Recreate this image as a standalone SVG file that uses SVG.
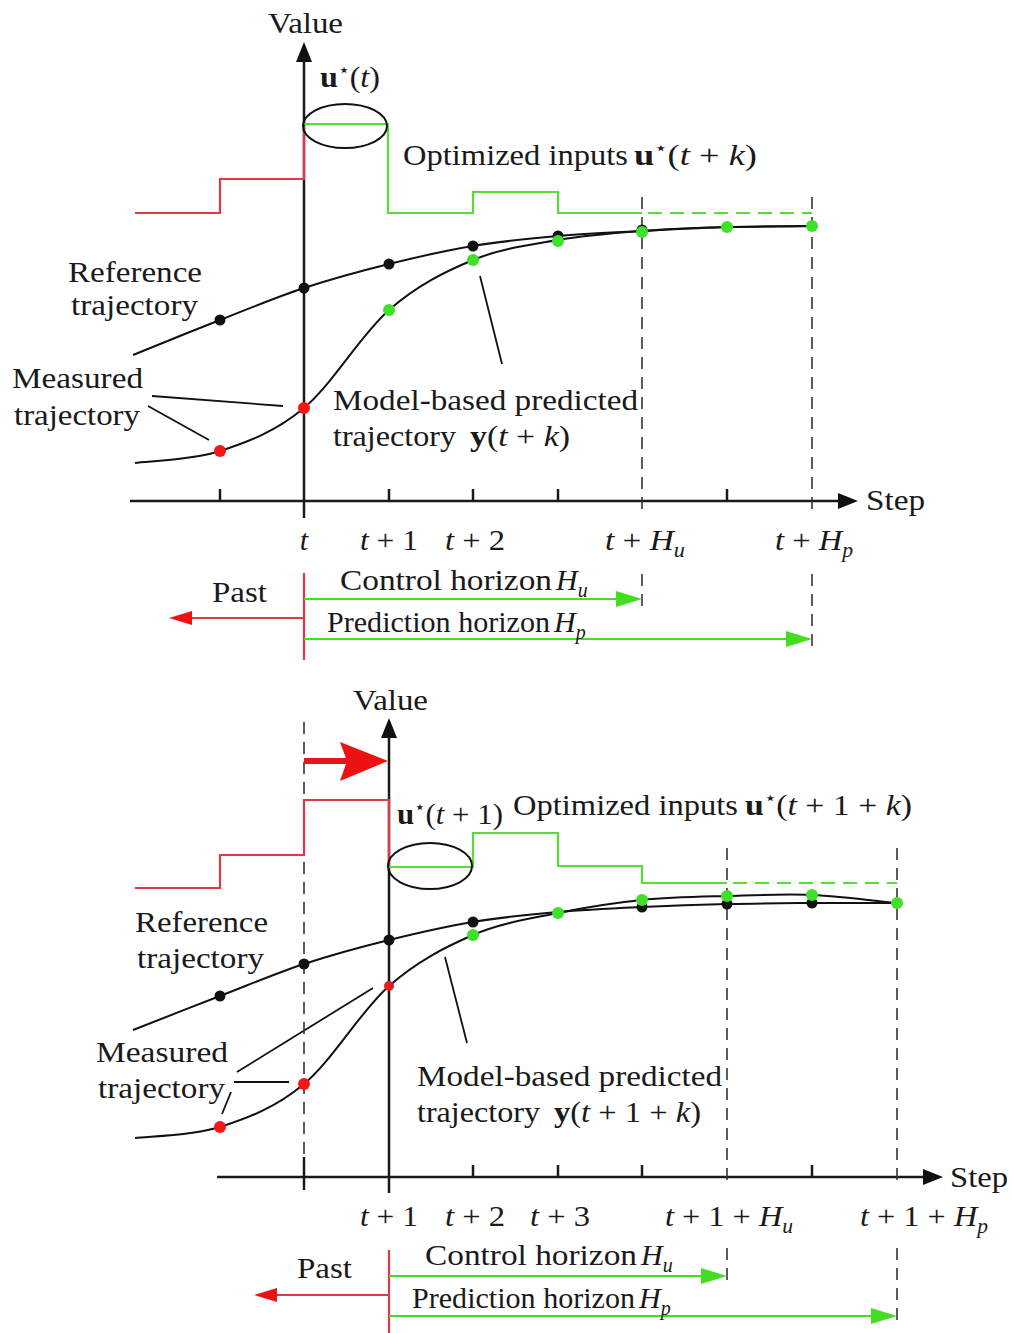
<svg xmlns="http://www.w3.org/2000/svg" width="1012" height="1333" viewBox="0 0 1012 1333">
<style>
text{font-family:"Liberation Serif","Times New Roman",serif;font-size:30px;fill:#1a1a1a}
.m{font-style:italic}
.b{font-weight:bold}
.sup{font-size:18px}
.sub{font-size:20px;font-style:italic}
.ax{stroke:#1a1a1a;stroke-width:2.5;fill:none}
.cv{stroke:#111;stroke-width:2;fill:none}
.ld{stroke:#111;stroke-width:1.8;fill:none}
.dash{stroke:#333;stroke-width:1.6;stroke-dasharray:12 8;fill:none}
.rs{stroke:#dc3a44;stroke-width:2.2;fill:none}
.gs{stroke:#58dd38;stroke-width:2.2;fill:none}
.gd{stroke:#58dd38;stroke-width:2.2;stroke-dasharray:14 8;fill:none}
.ell{stroke:#111;stroke-width:2;fill:none}
.kd{fill:#111}
.gdot{fill:#3fe02a}
.rdot{fill:#ff1414}
.garr{stroke:#44dd22;stroke-width:2.2;fill:none}
.gh{fill:#44dd22}
.rh{fill:#ee1111}
</style>

<!-- ===== TOP PANEL ===== -->
<g id="top-axes">
  <line class="ax" x1="304" y1="58" x2="304" y2="518"/>
  <polygon class="kd" points="304,42 296,62 312,62"/>
  <line class="ax" x1="130" y1="501" x2="842" y2="501"/>
  <polygon class="kd" points="858,501 838,493 838,509"/>
  <g class="ax" stroke-width="2">
    <line x1="220" y1="489" x2="220" y2="501"/>
    <line x1="389" y1="489" x2="389" y2="501"/>
    <line x1="473" y1="489" x2="473" y2="501"/>
    <line x1="558" y1="489" x2="558" y2="501"/>
    <line x1="727" y1="489" x2="727" y2="501"/>
  </g>
  <line class="dash" x1="642" y1="197" x2="642" y2="512"/>
  <line class="dash" x1="642" y1="574" x2="642" y2="606"/>
  <line class="dash" x1="812" y1="197" x2="812" y2="512"/>
  <line class="dash" x1="812" y1="574" x2="812" y2="650"/>
  <text x="268" y="33" textLength="75" lengthAdjust="spacingAndGlyphs">Value</text>
  <text x="866" y="510" textLength="59" lengthAdjust="spacingAndGlyphs">Step</text>
</g>

<g id="top-inputs">
  <polyline class="rs" points="135,213 220,213 220,179 304,179 304,126"/>
  <polyline class="gs" points="304,124 388,124 388,213 473,213 473,192 558,192 558,213 642,213"/>
  <line class="gd" x1="648" y1="213" x2="812" y2="213"/>
  <ellipse class="ell" cx="345" cy="126" rx="42" ry="22"/>
  <text x="320" y="87" textLength="60" lengthAdjust="spacingAndGlyphs"><tspan class="b">u</tspan><tspan class="sup" dy="-11">⋆</tspan><tspan dy="11">(</tspan><tspan class="m">t</tspan>)</text>
  <text x="403" y="165" textLength="225" lengthAdjust="spacingAndGlyphs">Optimized inputs</text>
  <text x="634" y="165" textLength="123" lengthAdjust="spacingAndGlyphs"><tspan class="b">u</tspan><tspan class="sup" dy="-11">⋆</tspan><tspan dy="11">(</tspan><tspan class="m">t</tspan> + <tspan class="m">k</tspan>)</text>
</g>

<g id="top-reference">
  <path class="cv" d="M133,355 C147.5,349.2 191.5,331.2 220,320 C248.5,308.8 275.8,297.3 304,288 C332.2,278.7 360.8,271 389,264 C417.2,257 444.8,250.7 473,246 C501.2,241.3 529.8,238.5 558,236 C586.2,233.5 613.8,232.5 642,231 C670.2,229.5 698.7,227.8 727,227 C755.3,226.2 797.8,226.2 812,226"/>
  <circle class="kd" cx="220" cy="320" r="5.5"/>
  <circle class="kd" cx="304" cy="288" r="5.5"/>
  <circle class="kd" cx="389" cy="264" r="5.5"/>
  <circle class="kd" cx="473" cy="246" r="5.5"/>
  <circle class="kd" cx="558" cy="236" r="5.5"/>
  <circle class="kd" cx="642" cy="230" r="5.5"/>
  <text x="68" y="282" textLength="134" lengthAdjust="spacingAndGlyphs">Reference</text>
  <text x="71" y="315" textLength="127" lengthAdjust="spacingAndGlyphs">trajectory</text>
</g>

<g id="top-predicted">
  <path class="cv" d="M135,463 C149.2,461 191.8,460.2 220,451 C248.2,441.8 275.8,431.5 304,408 C332.2,384.5 360.8,334.7 389,310 C417.2,285.3 444.8,271.7 473,260 C501.2,248.3 529.8,244.8 558,240 C586.2,235.2 613.8,233.2 642,231 C670.2,228.8 698.7,227.8 727,227 C755.3,226.2 797.8,226.2 812,226"/>
  <circle class="rdot" cx="220" cy="451" r="6"/>
  <circle class="rdot" cx="304" cy="408" r="6"/>
  <circle class="gdot" cx="389" cy="310" r="6"/>
  <circle class="gdot" cx="473" cy="260" r="6"/>
  <circle class="gdot" cx="558" cy="241" r="6"/>
  <circle class="gdot" cx="642" cy="232" r="6"/>
  <circle class="gdot" cx="727" cy="227" r="6"/>
  <circle class="gdot" cx="812" cy="226" r="6"/>
  <text x="12" y="388" textLength="131" lengthAdjust="spacingAndGlyphs">Measured</text>
  <text x="14" y="425" textLength="126" lengthAdjust="spacingAndGlyphs">trajectory</text>
  <text x="333" y="410" textLength="305" lengthAdjust="spacingAndGlyphs">Model-based predicted</text>
  <text x="333" y="446" textLength="123" lengthAdjust="spacingAndGlyphs">trajectory</text>
  <text x="470" y="446" textLength="100" lengthAdjust="spacingAndGlyphs"><tspan class="b">y</tspan>(<tspan class="m">t</tspan> + <tspan class="m">k</tspan>)</text>
</g>

<g id="top-ticklabels">
  <text x="304" y="550" text-anchor="middle" class="m">t</text>
  <text x="360" y="550" textLength="58" lengthAdjust="spacingAndGlyphs"><tspan class="m">t</tspan> + 1</text>
  <text x="445" y="550" textLength="60" lengthAdjust="spacingAndGlyphs"><tspan class="m">t</tspan> + 2</text>
  <text x="605" y="550" textLength="80" lengthAdjust="spacingAndGlyphs"><tspan class="m">t</tspan> + <tspan class="m">H</tspan><tspan class="sub" dy="7">u</tspan></text>
  <text x="775" y="550" textLength="78" lengthAdjust="spacingAndGlyphs"><tspan class="m">t</tspan> + <tspan class="m">H</tspan><tspan class="sub" dy="7">p</tspan></text>
</g>

<g id="top-horizons">
  <line class="rs" x1="304" y1="573" x2="304" y2="660"/>
  <line class="rs" x1="190" y1="618" x2="304" y2="618"/>
  <polygon class="rh" points="169,618 192,611 192,625"/>
  <text x="212" y="602" textLength="55" lengthAdjust="spacingAndGlyphs">Past</text>
  <line class="garr" x1="304" y1="599" x2="620" y2="599"/>
  <polygon class="gh" points="642,599 616,591 616,607"/>
  <line class="garr" x1="304" y1="639" x2="790" y2="639"/>
  <polygon class="gh" points="812,639 786,631 786,647"/>
  <text x="340" y="590" textLength="212" lengthAdjust="spacingAndGlyphs">Control horizon</text>
  <text x="556" y="590"><tspan class="m">H</tspan><tspan class="sub" dy="7">u</tspan></text>
  <text x="327" y="632" textLength="223" lengthAdjust="spacingAndGlyphs">Prediction horizon</text>
  <text x="554" y="632"><tspan class="m">H</tspan><tspan class="sub" dy="7">p</tspan></text>
</g>

<g id="connectors">
  <line class="ld" x1="152" y1="396" x2="283" y2="406"/>
  <line class="ld" x1="148" y1="406" x2="209" y2="440"/>
  <line class="ld" x1="480" y1="276" x2="502" y2="364"/>
  <line class="ld" x1="237" y1="1072" x2="373" y2="988"/>
  <line class="ld" x1="234" y1="1082" x2="289" y2="1082"/>
  <line class="ld" x1="231" y1="1092" x2="222" y2="1114"/>
  <line class="ld" x1="445" y1="957" x2="467" y2="1043"/>
</g>

<!-- ===== BOTTOM PANEL ===== -->
<g id="bottom-axes">
  <line class="ax" x1="389" y1="734" x2="389" y2="1193"/>
  <polygon class="kd" points="389,718 381,738 397,738"/>
  <line class="ax" x1="217" y1="1177" x2="926" y2="1177"/>
  <polygon class="kd" points="943,1177 923,1169 923,1185"/>
  <g class="ax" stroke-width="2">
    <line x1="304" y1="1157" x2="304" y2="1190"/>
    <line x1="473" y1="1165" x2="473" y2="1177"/>
    <line x1="558" y1="1165" x2="558" y2="1177"/>
    <line x1="642" y1="1165" x2="642" y2="1177"/>
    <line x1="812" y1="1165" x2="812" y2="1177"/>
  </g>
  <line class="dash" x1="304" y1="722" x2="304" y2="1160"/>
  <line class="dash" x1="727" y1="848" x2="727" y2="1188"/>
  <line class="dash" x1="727" y1="1248" x2="727" y2="1284"/>
  <line class="dash" x1="897" y1="848" x2="897" y2="1188"/>
  <line class="dash" x1="897" y1="1248" x2="897" y2="1326"/>
  <text x="353" y="710" textLength="75" lengthAdjust="spacingAndGlyphs">Value</text>
  <text x="950" y="1187" textLength="58" lengthAdjust="spacingAndGlyphs">Step</text>
</g>

<g id="shift-arrow">
  <line x1="304" y1="761" x2="348" y2="761" stroke="#e8141c" stroke-width="6"/>
  <polygon points="388,761 340,742 347,761 340,781" fill="#ee1111"/>
</g>

<g id="bottom-inputs">
  <polyline class="rs" points="135,888 220,888 220,855 304,855 304,800 389,800 389,867"/>
  <polyline class="gs" points="389,867 473,867 473,833 558,833 558,866 642,866 642,883 727,883"/>
  <line class="gd" x1="733" y1="883" x2="897" y2="883"/>
  <ellipse class="ell" cx="430" cy="866" rx="42" ry="23"/>
  <text x="397" y="824" textLength="106" lengthAdjust="spacingAndGlyphs"><tspan class="b">u</tspan><tspan class="sup" dy="-11">⋆</tspan><tspan dy="11">(</tspan><tspan class="m">t</tspan> + 1)</text>
  <text x="513" y="815" textLength="225" lengthAdjust="spacingAndGlyphs">Optimized inputs</text>
  <text x="745" y="815" textLength="167" lengthAdjust="spacingAndGlyphs"><tspan class="b">u</tspan><tspan class="sup" dy="-11">⋆</tspan><tspan dy="11">(</tspan><tspan class="m">t</tspan> + 1 + <tspan class="m">k</tspan>)</text>
</g>

<g id="bottom-reference">
  <path class="cv" d="M133,1030 C147.5,1024.3 191.5,1007 220,996 C248.5,985 275.8,973.3 304,964 C332.2,954.7 360.8,947 389,940 C417.2,933 444.8,926.7 473,922 C501.2,917.3 529.8,914.5 558,912 C586.2,909.5 613.8,908.3 642,907 C670.2,905.7 698.7,904.7 727,904 C755.3,903.3 783.7,903.2 812,903 C840.3,902.8 882.8,903 897,903"/>
  <circle class="kd" cx="220" cy="996" r="5.5"/>
  <circle class="kd" cx="304" cy="964" r="5.5"/>
  <circle class="kd" cx="389" cy="940" r="5.5"/>
  <circle class="kd" cx="473" cy="922" r="5.5"/>
  <circle class="kd" cx="642" cy="907" r="5.5"/>
  <circle class="kd" cx="727" cy="904" r="5.5"/>
  <circle class="kd" cx="812" cy="903" r="5.5"/>
  <text x="135" y="932" textLength="133" lengthAdjust="spacingAndGlyphs">Reference</text>
  <text x="137" y="968" textLength="127" lengthAdjust="spacingAndGlyphs">trajectory</text>
</g>

<g id="bottom-predicted">
  <path class="cv" d="M135,1138 C149.2,1136.2 191.8,1136 220,1127 C248.2,1118 275.8,1107.5 304,1084 C332.2,1060.5 360.8,1010.8 389,986 C417.2,961.2 444.8,947.2 473,935 C501.2,922.8 529.8,918.8 558,913 C586.2,907.2 613.8,902.8 642,900 C670.2,897.2 698.7,896.8 727,896 C755.3,895.2 783.7,893.8 812,895 C840.3,896.2 882.8,901.7 897,903"/>
  <circle class="rdot" cx="220" cy="1127" r="6"/>
  <circle class="rdot" cx="304" cy="1084" r="6"/>
  <circle cx="389" cy="986" r="5" fill="#e02020"/>
  <circle class="gdot" cx="473" cy="935" r="6"/>
  <circle class="gdot" cx="558" cy="913" r="6"/>
  <circle class="gdot" cx="642" cy="900" r="6"/>
  <circle class="gdot" cx="727" cy="896" r="6"/>
  <circle class="gdot" cx="812" cy="895" r="6"/>
  <circle class="gdot" cx="897" cy="903" r="6"/>
  <text x="96" y="1062" textLength="132" lengthAdjust="spacingAndGlyphs">Measured</text>
  <text x="98" y="1098" textLength="127" lengthAdjust="spacingAndGlyphs">trajectory</text>
  <text x="417" y="1086" textLength="305" lengthAdjust="spacingAndGlyphs">Model-based predicted</text>
  <text x="417" y="1122" textLength="123" lengthAdjust="spacingAndGlyphs">trajectory</text>
  <text x="554" y="1122" textLength="147" lengthAdjust="spacingAndGlyphs"><tspan class="b">y</tspan>(<tspan class="m">t</tspan> + 1 + <tspan class="m">k</tspan>)</text>
</g>

<g id="bottom-ticklabels">
  <text x="360" y="1226" textLength="58" lengthAdjust="spacingAndGlyphs"><tspan class="m">t</tspan> + 1</text>
  <text x="445" y="1226" textLength="60" lengthAdjust="spacingAndGlyphs"><tspan class="m">t</tspan> + 2</text>
  <text x="530" y="1226" textLength="60" lengthAdjust="spacingAndGlyphs"><tspan class="m">t</tspan> + 3</text>
  <text x="665" y="1226" textLength="128" lengthAdjust="spacingAndGlyphs"><tspan class="m">t</tspan> + 1 + <tspan class="m">H</tspan><tspan class="sub" dy="7">u</tspan></text>
  <text x="860" y="1226" textLength="128" lengthAdjust="spacingAndGlyphs"><tspan class="m">t</tspan> + 1 + <tspan class="m">H</tspan><tspan class="sub" dy="7">p</tspan></text>
</g>

<g id="bottom-horizons">
  <line class="rs" x1="389" y1="1250" x2="389" y2="1333"/>
  <line class="rs" x1="275" y1="1295" x2="389" y2="1295"/>
  <polygon class="rh" points="254,1295 277,1288 277,1302"/>
  <text x="297" y="1278" textLength="55" lengthAdjust="spacingAndGlyphs">Past</text>
  <line class="garr" x1="389" y1="1276" x2="705" y2="1276"/>
  <polygon class="gh" points="727,1276 701,1268 701,1284"/>
  <line class="garr" x1="389" y1="1316" x2="875" y2="1316"/>
  <polygon class="gh" points="897,1316 871,1308 871,1324"/>
  <text x="425" y="1265" textLength="212" lengthAdjust="spacingAndGlyphs">Control horizon</text>
  <text x="641" y="1265"><tspan class="m">H</tspan><tspan class="sub" dy="7">u</tspan></text>
  <text x="412" y="1308" textLength="223" lengthAdjust="spacingAndGlyphs">Prediction horizon</text>
  <text x="639" y="1308"><tspan class="m">H</tspan><tspan class="sub" dy="7">p</tspan></text>
</g>
</svg>
